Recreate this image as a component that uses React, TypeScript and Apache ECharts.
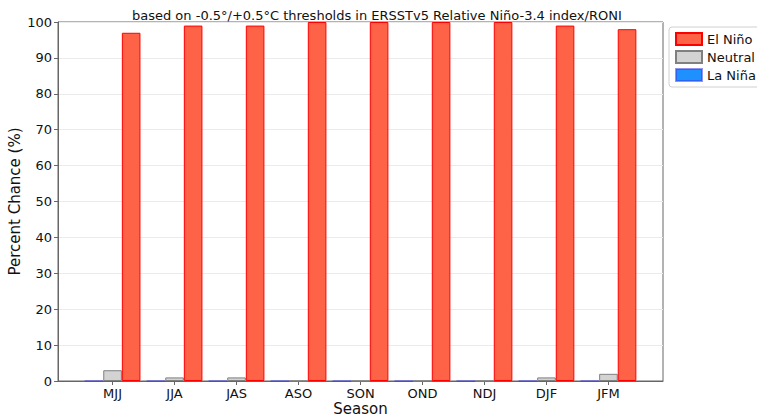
import React, { useEffect, useRef } from "react";
import * as echarts from "echarts";

const seasons = ["MJJ", "JJA", "JAS", "ASO", "SON", "OND", "NDJ", "DJF", "JFM"];
const laNina = [0, 0, 0, 0, 0, 0, 0, 0, 0];
const neutral = [3, 1, 1, 0, 0, 0, 0, 1, 2];
const elNino = [97, 99, 99, 100, 100, 100, 100, 99, 98];
const yTicks = [0, 10, 20, 30, 40, 50, 60, 70, 80, 90, 100];

const subtitle = "based on -0.5°/+0.5°C thresholds in ERSSTv5 Relative Niño-3.4 index/RONI";

export default function App() {
  const ref = useRef<HTMLDivElement>(null);
  useEffect(() => {
    document.body.style.margin = "0";
    const chart = echarts.init(ref.current!, null, { renderer: "svg" });
    const W = 757;
    const gridLeft = 58;
    const gridRight = 94;
    const xmin = -0.88;
    const xmax = 8.88;
    const pxPerUnit = (W - gridLeft - gridRight) / (xmax - xmin);
    const barW = pxPerUnit * 0.3;
    const font = "DejaVu Sans";
    const mk = (arr: number[], off: number) => arr.map((v, i) => [i + off, v]);
    chart.setOption({
      animation: false,
      textStyle: { fontFamily: font },
      title: {
        text: subtitle,
        left: 127,
        top: 4,
        textStyle: { fontSize: 13, fontWeight: "normal", color: "#111", fontFamily: font },
      },
      legend: {
        left: 669,
        top: 27,
        orient: "vertical",
        data: ["El Niño", "Neutral", "La Niña"],
        itemWidth: 26,
        itemHeight: 12,
        itemGap: 4,
        icon: "rect",
        borderColor: "#d0d0d0",
        borderWidth: 1,
        borderRadius: 3,
        padding: [5, 10, 5, 6],
        textStyle: { fontSize: 13, color: "#111", fontFamily: font },
      },
      grid: {
        left: gridLeft,
        right: gridRight,
        top: 22,
        bottom: 36,
        outerBoundsMode: "none",
        containLabel: false,
        show: true,
        borderColor: "#666",
        borderWidth: 1,
      },
      xAxis: {
        type: "value",
        min: xmin,
        max: xmax,
        name: "Season",
        nameLocation: "middle",
        nameGap: 20,
        nameMoveOverlap: false,
        nameTextStyle: { fontSize: 15, color: "#111", fontFamily: font },
        axisLine: { show: true, onZero: false, lineStyle: { color: "#666" } },
        axisTick: {
          show: true,
          customValues: seasons.map((_, i) => i),
          length: 4,
          lineStyle: { color: "#666" },
        },
        axisLabel: {
          customValues: seasons.map((_, i) => i),
          formatter: (v: number) => seasons[Math.round(v)] ?? "",
          fontSize: 13,
          color: "#111",
          margin: 6,
          fontFamily: font,
        },
        splitLine: { show: false },
      },
      yAxis: {
        type: "value",
        min: 0,
        max: 100,
        interval: 10,
        name: "Percent Chance (%)",
        nameLocation: "middle",
        nameGap: 36,
        nameMoveOverlap: false,
        nameTextStyle: { fontSize: 15, color: "#111", fontFamily: font },
        axisLine: { show: true, onZero: false, lineStyle: { color: "#666" } },
        axisTick: { show: true, length: 4, lineStyle: { color: "#666" } },
        axisLabel: {
          fontSize: 13,
          color: "#111",
          margin: 6,
          fontFamily: font,
          customValues: yTicks,
        },
        splitLine: { show: true, lineStyle: { color: "#ebebeb", width: 1 } },
      },
      series: [
        {
          name: "La Niña",
          type: "bar",
          data: mk(laNina, -0.3),
          barWidth: barW,
          barGap: "-100%",
          itemStyle: { color: "#1E90FF", borderColor: "rgba(60,60,230,0.55)", borderWidth: 1 },
        },
        {
          name: "Neutral",
          type: "bar",
          data: mk(neutral, 0),
          barWidth: barW,
          barGap: "-100%",
          itemStyle: { color: "#D3D3D3", borderColor: "#808080", borderWidth: 1 },
        },
        {
          name: "El Niño",
          type: "bar",
          data: mk(elNino, 0.3),
          barWidth: barW,
          barGap: "-100%",
          itemStyle: { color: "#FF6347", borderColor: "#FF0000", borderWidth: 1 },
        },
      ],
    });
    return () => chart.dispose();
  }, []);
  return <div ref={ref} style={{ position: "absolute", left: 0, top: 0, width: 757, height: 417 }} />;
}
